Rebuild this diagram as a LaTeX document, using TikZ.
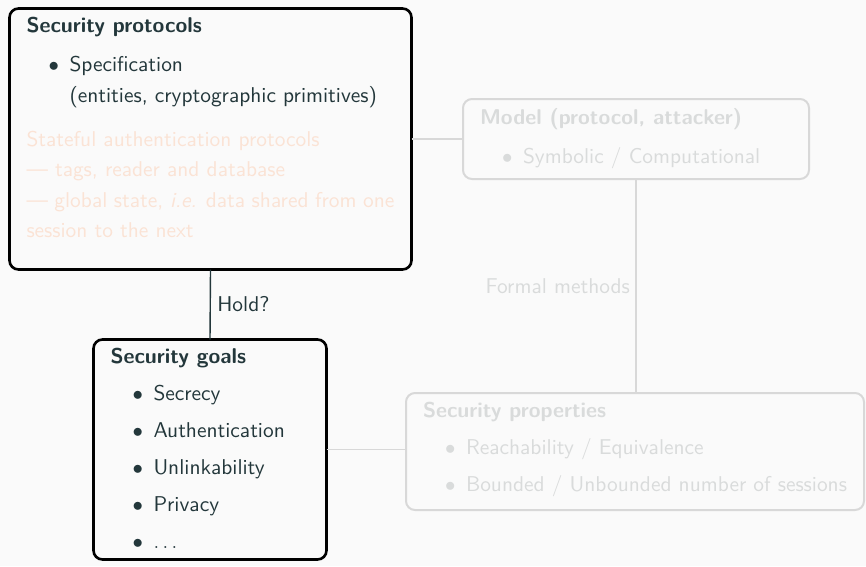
\documentclass[tikz,border=0pt]{standalone}
\usepackage{fontspec}
\setsansfont{lmsans10-regular.otf}[BoldFont=lmsans10-bold.otf,
    ItalicFont=lmsans10-oblique.otf]
\usetikzlibrary{positioning}

\definecolor{mDarkTeal}{HTML}{23373B}
\definecolor{mBackground}{HTML}{FAFAFA}
\definecolor{fadedText}{HTML}{D9DBDB}
\definecolor{fadedAlert}{HTML}{FBE3D5}
\definecolor{fadedLine}{HTML}{D8D8D8}

\newcommand{\bitem}[1]{\hspace*{22pt}\makebox[21pt][l]{$\bullet$}#1}
\newcommand{\boxcontent}[3]{\parbox[c][#2][t]{#1}{\raggedright\sffamily\fontsize{21.4}{30.5}\selectfont #3}}

\tikzset{
    block/.style={draw=black, line width=2.6pt, rounded corners=9pt,
        fill=mBackground, inner xsep=17pt, inner ysep=9pt, outer sep=0pt,
        text=mDarkTeal, anchor=north west},
    fadedblock/.style={block, draw=fadedLine, line width=2pt, text=fadedText},
    link/.style={draw=mDarkTeal, line width=1.4pt},
    fadedlink/.style={draw=fadedLine, line width=1.6pt},
}

\begin{document}
\begin{tikzpicture}[x=1pt, y=1pt, text=mDarkTeal,
        font=\sffamily\fontsize{21.4}{30.5}\selectfont]
    \fill[mBackground] (0, 0) rectangle (866, -566);
    \useasboundingbox (0, 0) rectangle (866, -566);

    \begin{scope}
        \node[block] (protocols) at (9.5, -8.5) {\boxcontent{368pt}{243pt}{%
            \textbf{Security protocols}\\[8.5pt]
            \bitem{Specification}\\
            \hspace*{43pt}(entities, cryptographic primitives)\\[13.5pt]
            \color{fadedAlert}Stateful authentication protocols\\
            --- tags, reader and database\\
            --- global state, \textit{i.e.} data shared from one\\
            session to the next}};
        \node[block] (goals) at (93.5, -339.5) {\boxcontent{199pt}{202pt}{%
            \textbf{Security goals}\\[6.5pt]
            \bitem{Secrecy}\\[6.5pt]
            \bitem{Authentication}\\[6.5pt]
            \bitem{Unlinkability}\\[6.5pt]
            \bitem{Privacy}\\[6.5pt]
            \bitem{$\ldots$}}};
        \node[fadedblock] (model) at (463, -99) {\boxcontent{312pt}{62pt}{%
            \textbf{Model (protocol, attacker)}\\[8.5pt]
            \bitem{Symbolic / Computational}}};
        \node[fadedblock] (properties) at (406, -393) {\boxcontent{424pt}{99pt}{%
            \textbf{Security properties}\\[7pt]
            \bitem{Reachability / Equivalence}\\[6.5pt]
            \bitem{Bounded / Unbounded number of sessions}}};
    \end{scope}

    % links between the boxes
    \draw[link] (protocols.south) -- (goals.north)
        node[midway, right=3pt] {Hold?};
    \draw[fadedlink] (protocols.east) -- (protocols.east -| model.west);
    \draw[fadedlink] (model.south) -- (model.south |- properties.north)
        node[midway, left=2pt, text=fadedText] {Formal methods};
    \draw[fadedlink] (goals.east) -- (goals.east -| properties.west);
\end{tikzpicture}
\end{document}
